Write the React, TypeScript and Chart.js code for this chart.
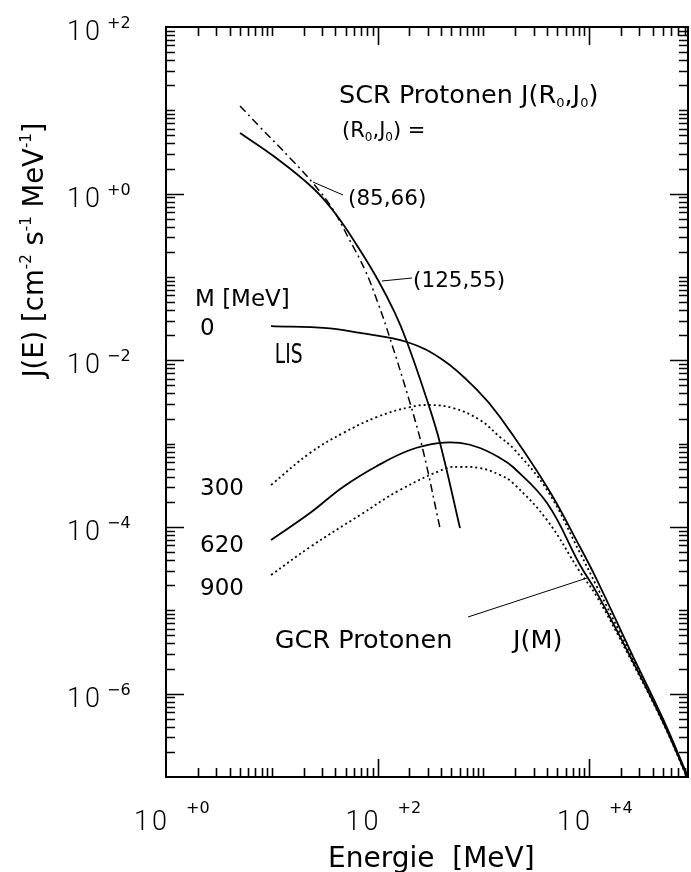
import React, { useEffect, useRef } from "react";
import { Chart, registerables } from "chart.js";

Chart.register(...registerables);

// ---- axis ranges and tick labels ----
const energyRange = [1, 86300];
const fluxRange = [1e-7, 100];
const xLabelExponents = [0, 2, 4];
const yLabelExponents = [2, 0, -2, -4, -6];

// ---- SCR protons (R0,J0) = (85,66)  (dash-dot) ----
const scr85Energy = [5.01, 7.41, 15.5, 24.5, 37.1, 52.6, 76.2, 101, 131, 203, 269, 390];
const scr85Flux = [11.3, 6.67, 2.54, 1.34, 0.673, 0.302, 0.121, 0.0488, 0.0185, 0.00308, 8.39e-4, 9.7e-5];

// ---- SCR protons (R0,J0) = (125,55)  (solid) ----
const scr125Energy = [5.01, 10.7, 24.5, 39.6, 65.4, 101, 146, 190, 294, 390, 603];
const scr125Flux = [5.35, 2.75, 1.17, 0.586, 0.229, 0.092, 0.037, 0.0166, 0.00334, 1.02e-3, 9.7e-5];

// ---- GCR protons, LIS (M = 0) ----
const lisEnergy = [9.84, 33.3, 68.3, 190, 416, 873, 1440, 4010, 8220, 11900, 24400, 50100, 86300];
const lisFlux = [0.0258, 0.0244, 0.0213, 0.0166, 0.0101, 0.00441, 0.00209, 3.02e-4, 5.75e-5, 2.31e-5, 3.34e-6, 4.97e-7, 1e-7];

// ---- GCR protons, M = 300 MeV (dotted) ----
const m300Energy = [9.84, 23.0, 47.2, 98.9, 203, 313, 517, 932, 1440, 1910, 4010, 8220, 11900, 24400, 50100, 86300];
const m300Flux = [3.19e-4, 7.73e-4, 1.34e-3, 2.09e-3, 2.75e-3, 2.91e-3, 2.68e-3, 1.92e-3, 1.2e-3, 8.87e-4, 2.78e-4, 4.88e-5, 1.91e-5, 3.08e-6, 4.7e-7, 9.7e-8];

// ---- GCR protons, M = 620 MeV (solid) ----
const m620Energy = [9.84, 23.0, 47.2, 98.9, 203, 390, 603, 932, 1440, 1910, 4010, 8220, 11900, 24400, 50100, 86300];
const m620Flux = [6.98e-5, 1.47e-4, 3.02e-4, 5.4e-4, 8.39e-4, 1.02e-3, 1.02e-3, 8.87e-4, 6.73e-4, 5.25e-4, 1.94e-4, 3.5e-5, 1.61e-5, 2.83e-6, 4.57e-7, 9.5e-8];

// ---- GCR protons, M = 900 MeV (dotted) ----
const m900Energy = [9.84, 23.0, 68.3, 163, 454, 603, 932, 1440, 1910, 4010, 8220, 11900, 24400, 50100, 86300];
const m900Flux = [2.65e-5, 5.75e-5, 1.39e-4, 2.78e-4, 5.1e-4, 5.25e-4, 5.1e-4, 4.21e-4, 3.37e-4, 1.21e-4, 2.88e-5, 1.45e-5, 2.68e-6, 4.45e-7, 9.3e-8];

const FAM = '"DejaVu Sans", "Liberation Sans", sans-serif';
const LABEL_FONT = '300 27px Roboto, "DejaVu Sans", sans-serif';
const SUP_FONT = '16px "DejaVu Sans", sans-serif';

type Seg = { t: string; f: number; dy?: number };

function segsWidth(ctx: CanvasRenderingContext2D, segs: Seg[]) {
  let w = 0;
  for (const s of segs) {
    ctx.font = `${s.f}px ${FAM}`;
    w += ctx.measureText(s.t).width;
  }
  return w;
}

function drawSegs(ctx: CanvasRenderingContext2D, segs: Seg[], x: number, y: number) {
  ctx.textAlign = "left";
  ctx.textBaseline = "alphabetic";
  let cx = x;
  for (const s of segs) {
    ctx.font = `${s.f}px ${FAM}`;
    ctx.fillText(s.t, cx, y + (s.dy || 0));
    cx += ctx.measureText(s.t).width;
  }
}

const pts = (xs: number[], ys: number[]) => xs.map((x, i) => ({ x, y: ys[i] }));

const decorPlugin = {
  id: "decor",
  afterDraw(chart: any) {
    const { ctx, chartArea: a } = chart;
    const xs = chart.scales.x;
    const ys = chart.scales.y;
    const X = (v: number) => xs.getPixelForValue(v);
    const Y = (v: number) => ys.getPixelForValue(v);
    ctx.save();
    ctx.strokeStyle = "#000";
    ctx.fillStyle = "#000";

    // ticks (inward, all four sides)
    ctx.lineWidth = 1.6;
    ctx.beginPath();
    for (let d = -1; d <= 6; d++) {
      for (let m = 1; m <= 9; m++) {
        const v = m * Math.pow(10, d);
        if (v <= energyRange[0] * 1.0001 || v >= energyRange[1] * 0.9999) continue;
        const px = Math.round(X(v)) + 0.5;
        const len = m === 1 && d % 2 === 0 ? 18 : 9;
        ctx.moveTo(px, a.bottom);
        ctx.lineTo(px, a.bottom - len);
        ctx.moveTo(px, a.top);
        ctx.lineTo(px, a.top + len);
      }
    }
    for (let d = -8; d <= 3; d++) {
      for (let m = 1; m <= 9; m++) {
        const v = m * Math.pow(10, d);
        if (v <= fluxRange[0] * 1.0001 || v >= fluxRange[1] * 0.9999) continue;
        const py = Math.round(Y(v)) + 0.5;
        const len = m === 1 && Math.abs(d) % 2 === 0 ? 18 : 9;
        ctx.moveTo(a.left, py);
        ctx.lineTo(a.left + len, py);
        ctx.moveTo(a.right, py);
        ctx.lineTo(a.right - len, py);
      }
    }
    ctx.stroke();

    // frame
    ctx.lineWidth = 2;
    ctx.strokeRect(a.left, a.top, a.right - a.left, a.bottom - a.top);

    // tick labels
    const expText = (e: number) => (e >= 0 ? "+" + e : "\u2212" + -e);
    (ctx as any).letterSpacing = "3px";
    for (const e of yLabelExponents) {
      const py = Y(Math.pow(10, e));
      ctx.font = LABEL_FONT;
      ctx.textAlign = "right";
      ctx.textBaseline = "alphabetic";
      ctx.fillText("10", a.left - 63, py + 13);
    }
    for (const e of xLabelExponents) {
      const px = X(Math.pow(10, e));
      ctx.font = LABEL_FONT;
      ctx.textAlign = "right";
      ctx.textBaseline = "alphabetic";
      ctx.fillText("10", px + 4, a.bottom + 53);
    }
    (ctx as any).letterSpacing = "0px";
    for (const e of yLabelExponents) {
      const py = Y(Math.pow(10, e));
      ctx.font = SUP_FONT;
      ctx.textAlign = "left";
      ctx.fillText(expText(e), a.left - 59, py + 1);
    }
    for (const e of xLabelExponents) {
      const px = X(Math.pow(10, e));
      ctx.font = SUP_FONT;
      ctx.textAlign = "left";
      ctx.fillText(expText(e), px + 20, a.bottom + 36);
    }

    // axis titles
    drawSegs(ctx, [{ t: "Energie  [MeV]", f: 28 }], a.left + 162, a.bottom + 90);
    const ySegs: Seg[] = [
      { t: "J(E) [cm", f: 27.5 },
      { t: "-2", f: 15, dy: -12 },
      { t: " s", f: 27.5 },
      { t: "-1", f: 15, dy: -12 },
      { t: " MeV", f: 27.5 },
      { t: "-1", f: 15, dy: -12 },
      { t: "]", f: 27.5 },
    ];
    const yw = segsWidth(ctx, ySegs);
    ctx.save();
    ctx.translate(43, 250);
    ctx.rotate(-Math.PI / 2);
    drawSegs(ctx, ySegs, -yw / 2, 0);
    ctx.restore();

    // annotations (anchored in data coordinates)
    const text = (segs: Seg[], e: number, j: number) => drawSegs(ctx, segs, X(e), Y(j));
    const line = (e1: number, j1: number, e2: number, j2: number) => {
      ctx.lineWidth = 1;
      ctx.beginPath();
      ctx.moveTo(X(e1), Y(j1));
      ctx.lineTo(X(e2), Y(j2));
      ctx.stroke();
    };
    text(
      [
        { t: "SCR Protonen J(R", f: 25.5 },
        { t: "0", f: 13, dy: 4 },
        { t: ",J", f: 25.5 },
        { t: "0", f: 13, dy: 4 },
        { t: ")", f: 25.5 },
      ],
      43.3,
      12.2
    );
    text(
      [
        { t: "(R", f: 21 },
        { t: "0", f: 12, dy: 4 },
        { t: ",J", f: 21 },
        { t: "0", f: 12, dy: 4 },
        { t: ") =", f: 21 },
      ],
      46.2,
      4.79
    );
    text([{ t: "(85,66)", f: 21.5 }], 52.6, 0.731);
    line(24.5, 1.38, 47.2, 0.964);
    text([{ t: "(125,55)", f: 21.5 }], 217, 0.0759);
    line(110, 0.0895, 212, 0.0973);
    text([{ t: "M [MeV]", f: 23 }], 1.88, 0.0449);
    text([{ t: "0", f: 23 }], 2.1, 0.0201);
    text([{ t: "300", f: 23 }], 2.1, 2.42e-4);
    text([{ t: "620", f: 23 }], 2.1, 5.01e-5);
    text([{ t: "900", f: 23 }], 2.1, 1.53e-5);
    // LIS (condensed)
    ctx.save();
    ctx.translate(X(10.7), Y(0.00929));
    ctx.scale(0.72, 1);
    drawSegs(ctx, [{ t: "LIS", f: 26 }], 0, 0);
    ctx.restore();
    text([{ t: "GCR Protonen", f: 25.5 }], 10.7, 3.53e-6);
    text([{ t: "J(M)", f: 25.5 }], 1910, 3.53e-6);
    line(718, 8.32e-6, 9570, 2.44e-5);

    ctx.restore();
  },
};

export default function App() {
  const ref = useRef<HTMLCanvasElement | null>(null);
  useEffect(() => {
    if (!ref.current) return;
    const common = {
      borderColor: "#000",
      backgroundColor: "#000",
      pointRadius: 0,
      fill: false,
      tension: 0.4,
    };
    const chart = new Chart(ref.current, {
      type: "line",
      data: {
        datasets: [
          { ...common, label: "SCR (85,66)", data: pts(scr85Energy, scr85Flux), borderWidth: 1.5, borderDash: [8, 4, 2, 4] },
          { ...common, label: "SCR (125,55)", data: pts(scr125Energy, scr125Flux), borderWidth: 1.8 },
          { ...common, label: "LIS", data: pts(lisEnergy, lisFlux), borderWidth: 1.8 },
          { ...common, label: "M=300", data: pts(m300Energy, m300Flux), borderWidth: 1.8, borderDash: [2, 3] },
          { ...common, label: "M=620", data: pts(m620Energy, m620Flux), borderWidth: 1.8 },
          { ...common, label: "M=900", data: pts(m900Energy, m900Flux), borderWidth: 1.8, borderDash: [2, 3] },
        ],
      },
      options: {
        animation: false,
        responsive: false,
        devicePixelRatio: 1,
        layout: { padding: { left: 166, right: 3, top: 27, bottom: 95 } },
        plugins: { legend: { display: false }, tooltip: { enabled: false } },
        scales: {
          x: { type: "logarithmic", min: energyRange[0], max: energyRange[1], display: false },
          y: { type: "logarithmic", min: fluxRange[0], max: fluxRange[1], display: false },
        },
      },
      plugins: [decorPlugin],
    });
    return () => chart.destroy();
  }, []);
  return (
    <div style={{ position: "absolute", left: 0, top: 0, width: 691, height: 872, background: "#fff" }}>
      <canvas ref={ref} width={691} height={872} style={{ display: "block", width: 691, height: 872 }} />
    </div>
  );
}
